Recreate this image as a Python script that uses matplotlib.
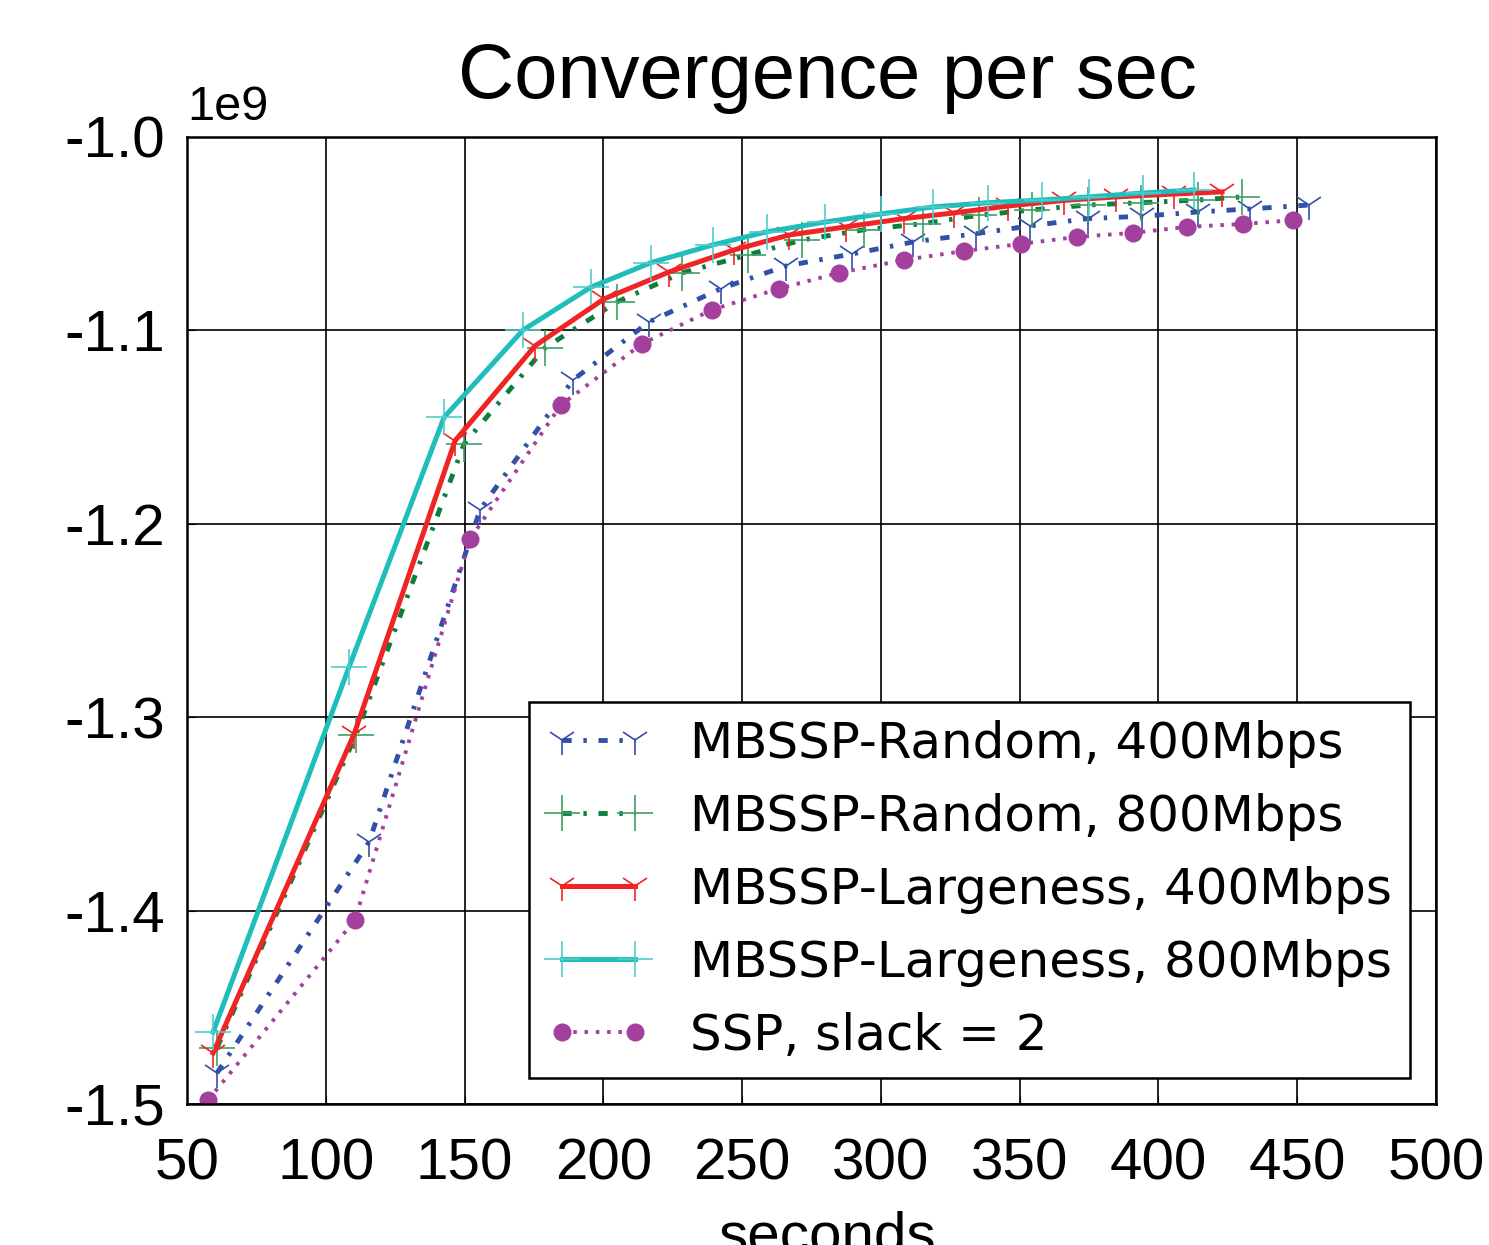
import matplotlib
matplotlib.use("Agg")
import matplotlib.pyplot as plt
import numpy as np

# values (y in units of 1e9)
rand400_x = [60.8, 115.6, 155.6, 189.1, 216.4, 242.4, 265.8, 289.6, 311.6, 334.3, 353.7,
             374.6, 394.1, 414.2, 433.0, 454.2]
rand400_y = [-1.484, -1.3645, -1.1927, -1.1256, -1.0957, -1.0784, -1.0667, -1.0605, -1.0543,
             -1.0500, -1.0460, -1.0422, -1.0410, -1.0388, -1.0372, -1.0352]

rand800_x = [60.8, 110.9, 149.8, 179.0, 204.9, 228.3, 252.1, 271.6, 293.9, 315.2, 335.3,
             354.4, 374.6, 393.8, 414.2, 430.1]
rand800_y = [-1.471, -1.309, -1.1588, -1.109, -1.0853, -1.0703, -1.0610, -1.0533, -1.0480,
             -1.0448, -1.0405, -1.0377, -1.0352, -1.0340, -1.0326, -1.0310]

large400_x = [59.4, 110.2, 146.6, 175.4, 200.2, 223.7, 247.1, 266.9, 287.4, 308.3, 326.3,
              345.8, 366.0, 384.7, 405.6, 422.9]
large400_y = [-1.4736, -1.3087, -1.157, -1.108, -1.0838, -1.0698, -1.0584, -1.0507, -1.0465,
              -1.0422, -1.0393, -1.0357, -1.0328, -1.0310, -1.0295, -1.0284]

large800_x = [59.4, 108.4, 142.6, 171.1, 195.6, 217.2, 239.5, 259.0, 279.9, 300.0, 318.8,
              338.6, 358.0, 375.0, 394.4, 412.8]
large800_y = [-1.4628, -1.274, -1.145, -1.0998, -1.0776, -1.065, -1.0558, -1.049, -1.044,
              -1.0398, -1.0362, -1.034, -1.0326, -1.031, -1.029, -1.0274]

ssp_x = [57.6, 110.5, 152.0, 184.7, 213.9, 239.1, 263.3, 284.9, 308.3, 329.9, 350.5,
         370.6, 390.8, 410.3, 430.5, 448.5]
ssp_y = [-1.498, -1.4049, -1.2079, -1.1386, -1.107, -1.0894, -1.0784, -1.0703, -1.0636,
         -1.059, -1.0553, -1.0517, -1.0496, -1.0465, -1.045, -1.0431]

labels = ["MBSSP-Random, 400Mbps", "MBSSP-Random, 800Mbps", "MBSSP-Largeness, 400Mbps",
          "MBSSP-Largeness, 800Mbps", "SSP, slack = 2"]

plt.rcParams['font.family'] = ['Liberation Sans', 'DejaVu Sans']
plt.rcParams['axes.unicode_minus'] = False

fig = plt.figure(figsize=(14.89, 12.45), dpi=100)
ax = fig.add_axes([0.1256, 0.1133, 0.8388, 0.7767])

ax.plot(rand400_x, np.array(rand400_y) * 1e9, color='#3350a8', lw=3.5,
        linestyle=(0, (1.9, 2.4, 0.7, 2.4)), marker='1', ms=22, mew=1.2, label=labels[0])
ax.plot(rand800_x, np.array(rand800_y) * 1e9, color='#0d7f3c', lw=3.5,
        linestyle=(0, (1.9, 2.4, 0.7, 2.4)), marker='+', ms=26, mew=1.2,
        markeredgecolor='#3f9f65', label=labels[1])
ax.plot(large400_x, np.array(large400_y) * 1e9, color='#f02424', lw=3.6,
        linestyle='-', marker='1', ms=22, mew=1.2, label=labels[2])
ax.plot(large800_x, np.array(large800_y) * 1e9, color='#20bdbd', lw=3.6,
        linestyle='-', marker='+', ms=26, mew=1.2,
        markeredgecolor='#50cccc', label=labels[3])
ax.plot(ssp_x, np.array(ssp_y) * 1e9, color='#a3409e', lw=2.8,
        linestyle=(0, (0.9, 2.0)), marker='o', ms=13, mew=0, label=labels[4])

ax.set_xlim(50, 500)
ax.set_ylim(-1.5e9, -1.0e9)
ax.set_xticks(np.arange(50, 501, 50))
ax.set_yticks(np.arange(-1.5e9, -0.99e9, 0.1e9))
ax.grid(True, color='black', lw=1.2)
for s in ax.spines.values():
    s.set_linewidth(1.8)
ax.tick_params(direction='in', length=6, labelsize=42)
ax.tick_params(axis='x', pad=24)
ax.tick_params(axis='y', pad=16)
ax.yaxis.get_offset_text().set_fontsize(35)
ax.yaxis.OFFSETTEXTPAD = 12

ax.set_title("Convergence per sec", fontsize=56, pad=28, x=0.5128)
ax.set_xlabel("seconds", fontsize=42, labelpad=14)
ax.xaxis.label.set_x(0.5128)

leg = ax.legend(loc='lower right', bbox_to_anchor=(0.979, 0.027), borderaxespad=0,
                numpoints=2, fancybox=False, framealpha=1, edgecolor='black',
                prop={'family': 'DejaVu Sans', 'size': 36}, handlelength=2.06,
                labelspacing=0.5, borderpad=0.36, handletextpad=0.8)
leg.get_frame().set_linewidth(1.8)

fig.savefig("out.png", dpi=100)
